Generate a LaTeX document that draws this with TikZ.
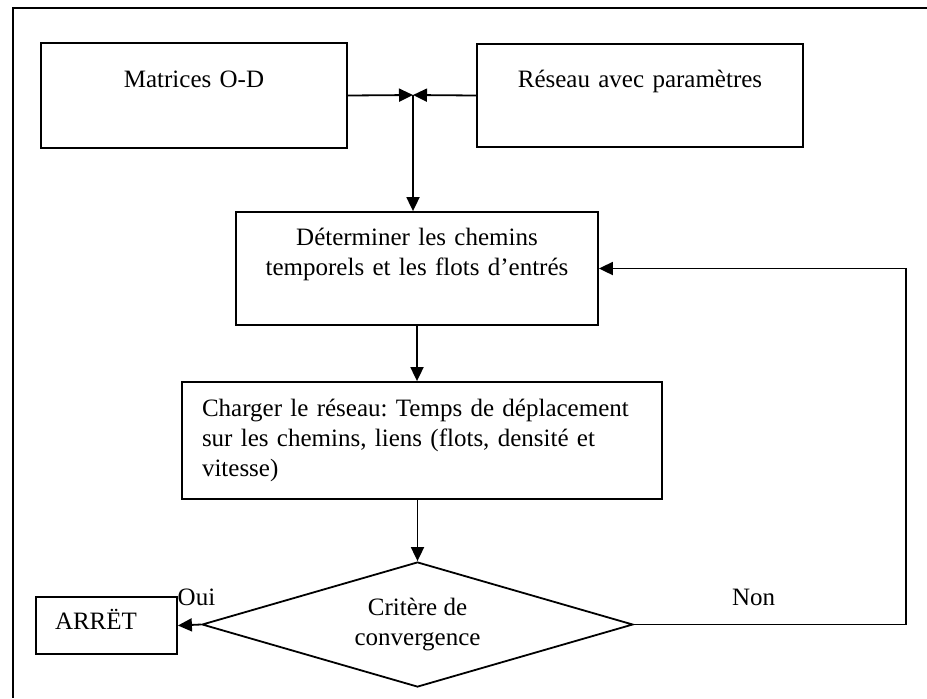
\documentclass[tikz,border=0pt]{standalone}
\usepackage{fontspec}
\setmainfont{Liberation Serif}
\usepackage{xcolor}
\usepackage{tikz}
\usetikzlibrary{arrows.meta,shapes.geometric}
\frenchspacing

\tikzset{
  box/.style={draw,line width=0.9pt,inner sep=0pt,align=center},
  flow/.style={line width=0.9pt,-{Triangle[length=7pt,width=6.5pt]}},
  lbl/.style={inner sep=0pt}
}

\begin{document}
\begin{tikzpicture}[x=0.5pt,y=-0.5pt,font=\fontsize{12.5}{15}\selectfont]
  \useasboundingbox (0,0) rectangle (927,698);
  % 外框只露出上边和左边
  \draw[line width=0.9pt] (927,8) -- (13,8) -- (13,698);
  % 两个输入框，文字靠上
  \node[box,text width=153pt,text height=22pt,text depth=30.5pt] (od) at (194,95.5) {Matrices O-D};
  \node[box,text width=163pt,text height=21.5pt,text depth=30pt] (res) at (640,95.5) {Réseau avec paramètres};
  \node[box,text width=181pt,text height=16.5pt,text depth=40pt] (det) at (417,268.5) {Déterminer les chemins\\temporels et les flots d’entrés};
  \node[box,text width=220pt,inner xsep=10pt,align=left,minimum height=58.5pt] (charge) at (422,440.5) {Charger le réseau: Temps de déplacement\\sur les chemins, liens (flots, densité et\\vitesse)};
  \node[box,diamond,aspect=3.45,minimum width=215.5pt,minimum height=62.5pt] (crit) at (417.5,624.5) {Critère de\\convergence};
  \node[box,text width=51.5pt,inner xsep=9.5pt,align=left,text height=16pt,text depth=12.5pt] (arret) at (106.5,625.5) {ARRËT};
  % 两个输入汇合到一点
  \coordinate (join) at (413,95);
  \draw[flow] (od.east) -- (join);
  \draw[flow] (res.west) -- (join);
  \draw[flow] (join) -- (join |- det.north);
  \draw[flow] (det.south) -- (det.south |- charge.north);
  \draw[flow] (crit.north |- charge.south) -- (crit.north);
  % 收敛判断的两个出口
  \draw[flow] (crit.west) -- node[lbl,above=9pt,pos=0.2] {Oui} (arret.east);
  \draw[flow] (crit.east) -- node[lbl,above=9pt,pos=0.44] {Non} ++(272,0) |- (det.east);
\end{tikzpicture}
\end{document}
